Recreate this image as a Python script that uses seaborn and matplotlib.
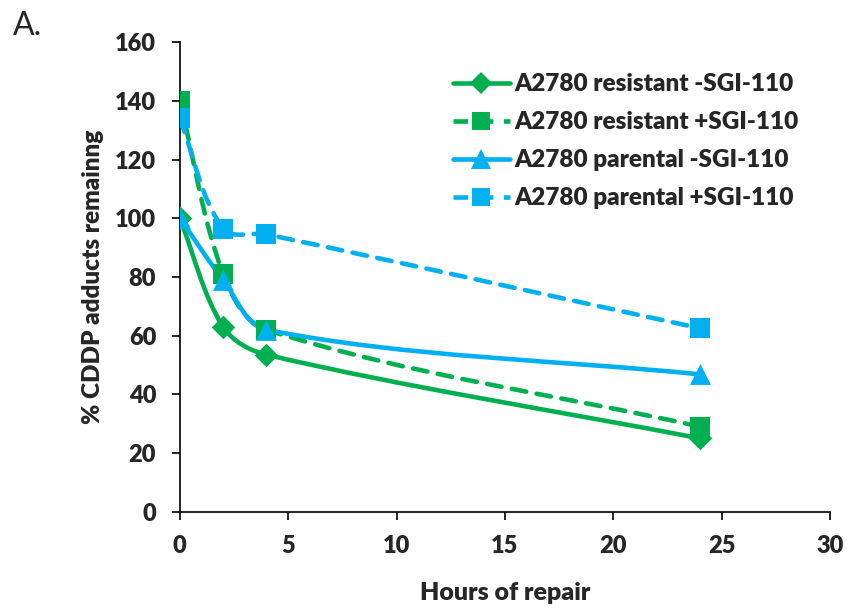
import numpy as np
import pandas as pd
import matplotlib
matplotlib.use("Agg")
import matplotlib.pyplot as plt
import seaborn as sns
from matplotlib.path import Path
from matplotlib.patches import PathPatch
from matplotlib.lines import Line2D

# ---- data ----
hours = [0, 2, 4, 24]
series_names = ["A2780 resistant -SGI-110", "A2780 resistant +SGI-110",
                "A2780 parental -SGI-110", "A2780 parental +SGI-110"]
resistant_minus = [100, 63, 53.5, 25]
resistant_plus = [140, 81, 62, 29]
parental_minus = [100, 79, 62, 46.8]
parental_plus = [134, 96.5, 94.5, 62.5]
x_ticks = [0, 5, 10, 15, 20, 25, 30]
y_ticks = [0, 20, 40, 60, 80, 100, 120, 140, 160]

values = [resistant_minus, resistant_plus, parental_minus, parental_plus]
colors = ["#00B050", "#00B050", "#00B0F0", "#00B0F0"]
markers = ["D", "s", "^", "s"]
msizes = [12, 14, 15, 14]
dashed = [False, True, False, True]

sns.set_theme(style="white")
plt.rcParams["font.family"] = ["Lato", "DejaVu Sans"]
W = "heavy"

fig = plt.figure(figsize=(8.48, 6.10), dpi=100)
ax = fig.add_axes([0.212, 0.161, 0.767, 0.770])
ax.set_xlim(0, 30)
ax.set_ylim(0, 160)


def smooth_path(xs, ys, tension=0.33):
    # smooth curve built in display space, returned in data coordinates
    data = np.column_stack([xs, ys]).astype(float)
    pts = ax.transData.transform(data)
    n = len(pts)
    tangents = []
    for i in range(n):
        if i == 0:
            t = pts[1] - pts[0]
        elif i == n - 1:
            t = pts[-1] - pts[-2]
        else:
            t = pts[i + 1] - pts[i - 1]
        tangents.append(t / np.linalg.norm(t))
    verts = [pts[0]]
    codes = [Path.MOVETO]
    for i in range(n - 1):
        seg = np.linalg.norm(pts[i + 1] - pts[i])
        c1 = pts[i] + tangents[i] * seg * tension
        c2 = pts[i + 1] - tangents[i + 1] * seg * tension
        verts += [c1, c2, pts[i + 1]]
        codes += [Path.CURVE4] * 3
    verts = ax.transData.inverted().transform(np.array(verts))
    return Path(verts, codes)


handles = []
for name, vals, c, m, ms, d in zip(series_names, values, colors, markers, msizes, dashed):
    ls = (0, (3.2, 2.3)) if d else "-"
    patch = PathPatch(smooth_path(hours, vals), fill=False, edgecolor=c,
                      linewidth=3.3, linestyle=ls, capstyle="round", zorder=2)
    ax.add_patch(patch)
    df = pd.DataFrame({"x": hours, "y": vals})
    sns.scatterplot(data=df, x="x", y="y", marker=m, color=c, s=ms ** 2,
                    edgecolor=c, linewidth=0, ax=ax, zorder=3, legend=False)
    handles.append(Line2D([0], [0], color=c, linewidth=3.3, linestyle=ls,
                          marker=m, markersize=ms * 0.95, markeredgewidth=0))

ax.set_xticks(x_ticks)
ax.set_yticks(y_ticks)
ax.set_xticklabels([str(t) for t in x_ticks], fontsize=17, fontweight=W)
ax.set_yticklabels([str(t) for t in y_ticks], fontsize=17, fontweight=W)
ax.set_xlabel("Hours of repair", fontsize=18, fontweight=W, labelpad=18)
ax.set_ylabel("% CDDP adducts remainng", fontsize=17.5, fontweight=W, labelpad=8)

for s in ["top", "right"]:
    ax.spines[s].set_visible(False)
for s in ["left", "bottom"]:
    ax.spines[s].set_color("black")
    ax.spines[s].set_linewidth(1.2)
ax.tick_params(axis="both", direction="out", length=6, width=1.2, color="black",
               left=True, bottom=True, pad=11)

leg = fig.legend(handles, series_names, loc="upper left", bbox_to_anchor=(0.534, 0.880),
                 frameon=False, handlelength=2.35, handletextpad=0.2, labelspacing=0.66,
                 borderpad=0, borderaxespad=0,
                 prop={"size": 17.5, "weight": W})

fig.text(0.015, 0.942, "A.", fontsize=23)

fig.savefig("out.png", dpi=100)
